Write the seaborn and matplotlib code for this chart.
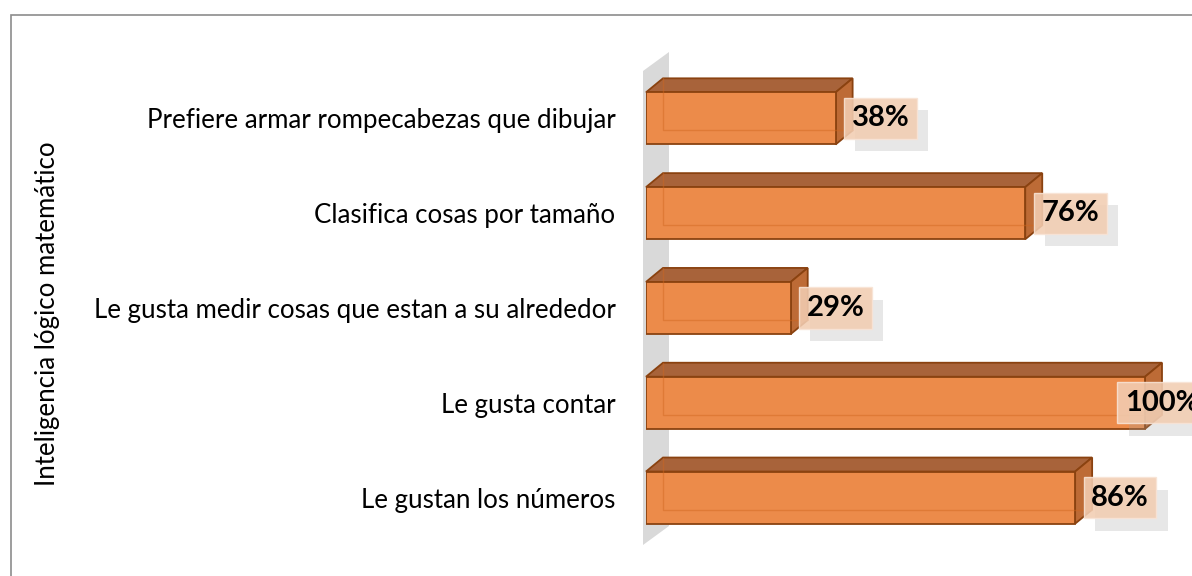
import numpy as np
import pandas as pd
import seaborn as sns
import matplotlib.pyplot as plt
from matplotlib.patches import Polygon, Rectangle
import matplotlib.patheffects as pe

# data
categories = [
    "Prefiere armar rompecabezas que dibujar",
    "Clasifica cosas por tamaño",
    "Le gusta medir cosas que estan a su alrededor",
    "Le gusta contar",
    "Le gustan los números",
]
values = [38, 76, 29, 100, 86]
value_labels = ["38%", "76%", "29%", "100%", "86%"]
axis_title = "Inteligencia lógico matemático"

df = pd.DataFrame({"categoria": categories, "valor": values})

sns.set_style("white")
plt.rcParams['font.family'] = ['Lato', 'DejaVu Sans']

W, H = 1192, 576
fig = plt.figure(figsize=(W / 100, H / 100), dpi=100)
ax = fig.add_axes([646 / W, 31 / H, (W - 646) / W, 474 / H])

front = "#ec8b4a"
top_c = "#a8633a"
side_c = "#bd6b36"
edge = "#8a4210"

sns.barplot(data=df, y="categoria", x="valor", orient="h", width=0.55,
            color=front, saturation=1, edgecolor=edge, linewidth=1.3, ax=ax, zorder=3)

ax.set_xlim(0, (W - 646) / 4.99)
ax.set_ylim(4.5, -0.5)
for s in ax.spines.values():
    s.set_visible(False)
ax.set_xticks([])
ax.set_xlabel("")
ax.set_ylabel("")
ax.tick_params(axis="y", length=0, pad=22, labelsize=18.6, labelcolor="#000000")

fig.canvas.draw()
to_px = ax.transData.transform
to_data = ax.transData.inverted().transform

# grey back wall at x = 0
dx_w, dy_w = 26, 19
(wx, wy0) = to_px((0, 4.5))
(_, wy1) = to_px((0, -0.5))
wx -= 3
wall = np.array([[wx, wy0], [wx + dx_w, wy0 + dy_w], [wx + dx_w, wy1 + dy_w], [wx, wy1]])
ax.add_patch(Polygon(to_data(wall), closed=True, facecolor="#d9d9d9", edgecolor="none",
                     zorder=1, clip_on=False))

# 3D faces of the bars
dx, dy = 17, 14
ax_right = ax.get_window_extent().x1
for bar, lab in zip(ax.patches[:len(values)], value_labels):
    x0, y0 = bar.get_x(), bar.get_y()
    x1, y1 = x0 + bar.get_width(), y0 + bar.get_height()
    (px0, pyb), (px1, pyt) = to_px((x0, y1)), to_px((x1, y0))
    topf = np.array([[px0, pyt], [px1, pyt], [px1 + dx, pyt + dy], [px0 + dx, pyt + dy]])
    sidef = np.array([[px1, pyt], [px1 + dx, pyt + dy], [px1 + dx, pyb + dy], [px1, pyb]])
    ax.add_patch(Polygon(to_data(topf), closed=True, facecolor=top_c, edgecolor=edge,
                         linewidth=1.3, zorder=2, clip_on=False))
    ax.add_patch(Polygon(to_data(sidef), closed=True, facecolor=side_c, edgecolor=edge,
                         linewidth=1.3, zorder=2, clip_on=False))
    # faint hidden back edges
    back = to_data(np.array([[px0 + dx, pyt + dy], [px0 + dx, pyb + dy], [px1 + dx, pyb + dy]]))
    ax.plot(back[:, 0], back[:, 1], color="#d0661f", lw=1, alpha=0.45, zorder=4, clip_on=False)

    # value label with box and shadow
    box_left = min(px1 + 8, ax_right - 75)
    tx, ty = to_data((box_left + 8, (pyt + pyb) / 2))
    t = ax.text(tx, ty, lab, ha="left", va="center", fontsize=21, fontweight="bold",
                color="black", zorder=6, clip_on=False,
                bbox=dict(boxstyle="square,pad=0.26", facecolor="#f2cdb2", alpha=0.88,
                          edgecolor="#f8e4d6", linewidth=1))
    t.get_bbox_patch().set_path_effects([
        pe.SimplePatchShadow(offset=(8, -9), shadow_rgbFace="#a0a0a0", alpha=0.25),
        pe.Normal()])

fig.text(48 / W, (H - 314) / H, axis_title, rotation=90, ha="center", va="center",
         fontsize=18.6, color="black")

# outer chart frame (runs off the right and bottom edges)
fig.patches.append(Rectangle((10.5 / W, -0.1), 1.2, (H - 14.5) / H + 0.1,
                             transform=fig.transFigure, fill=False,
                             edgecolor="#8c8c8c", linewidth=1.2, zorder=0))

fig.savefig("out.png", dpi=100)
